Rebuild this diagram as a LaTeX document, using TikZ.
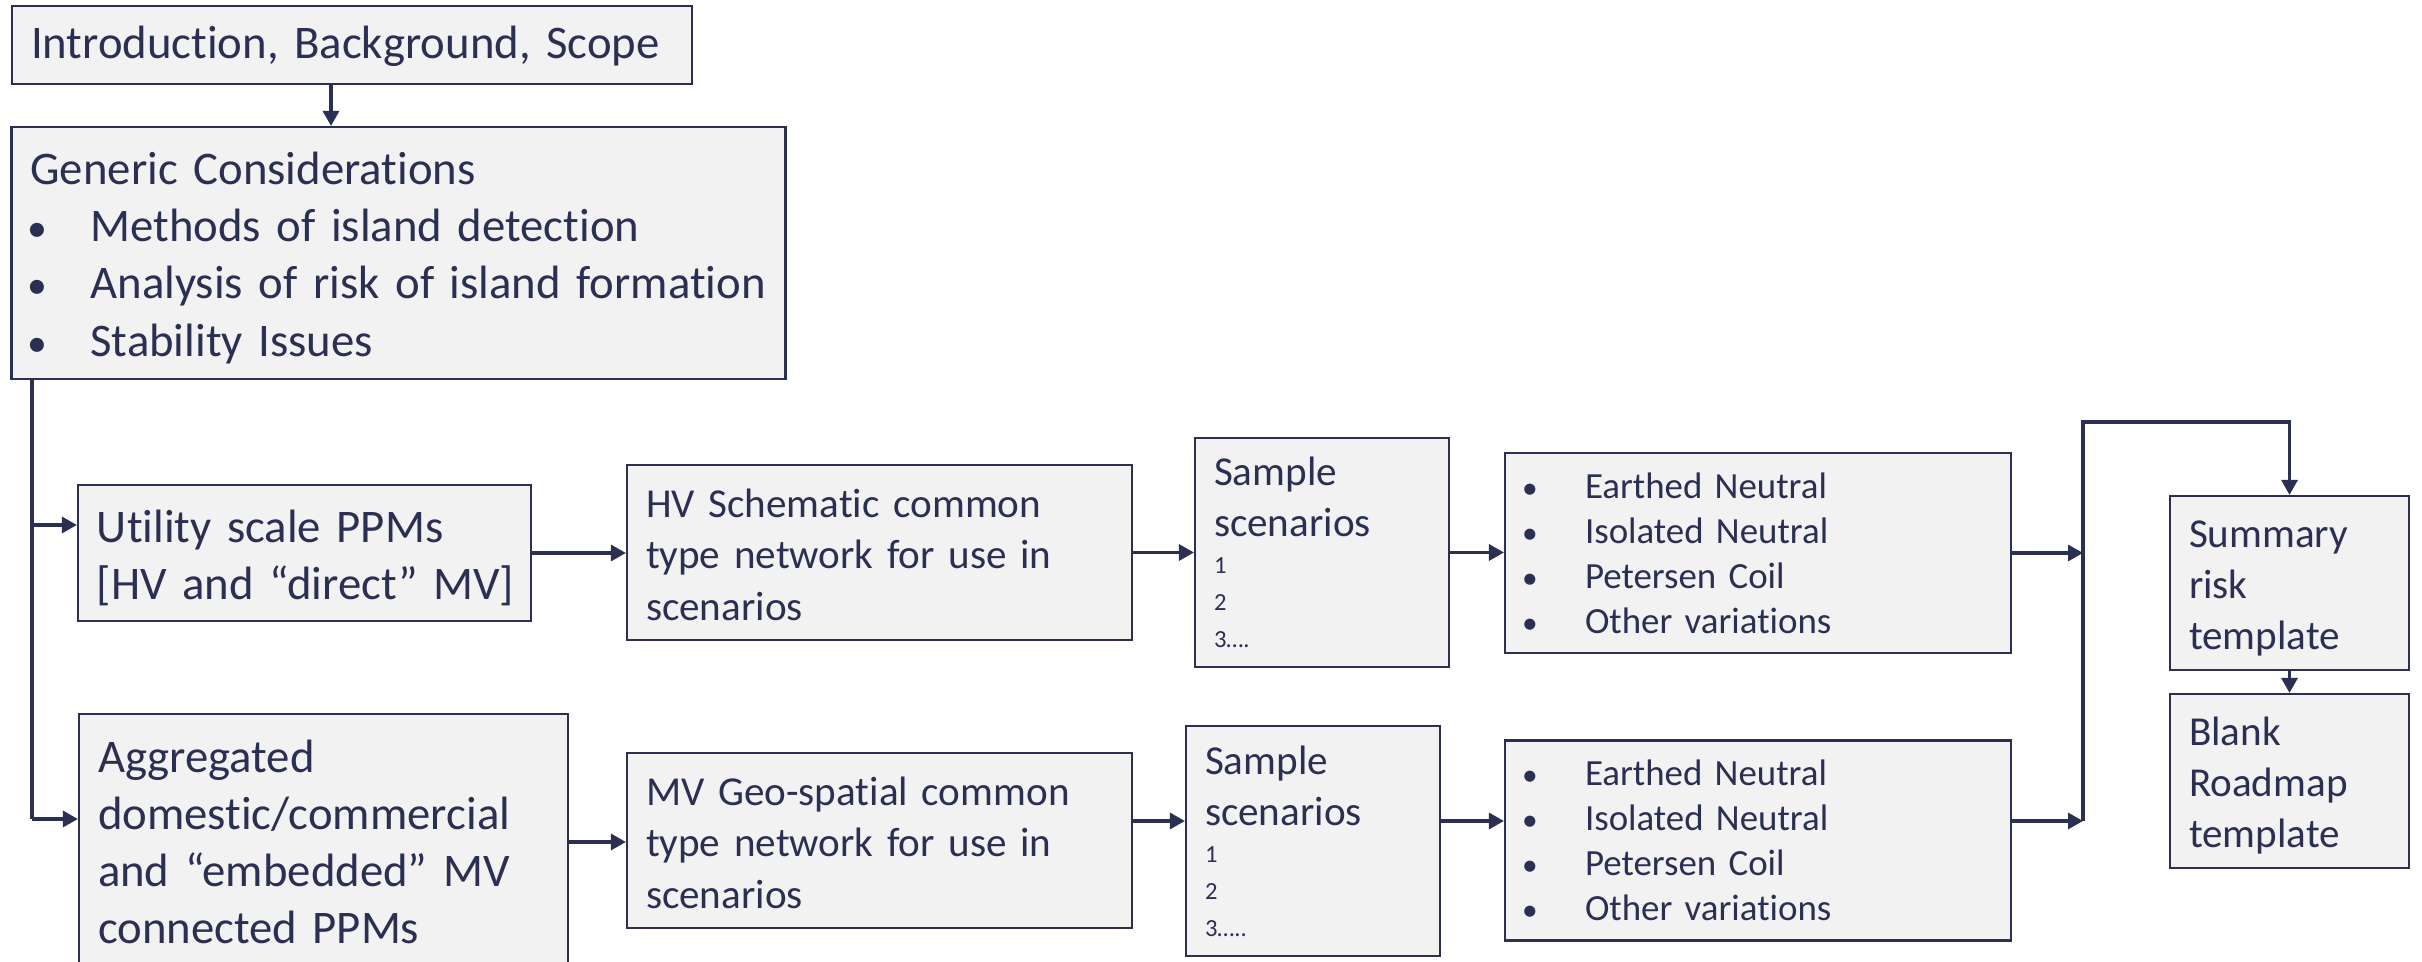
\documentclass[tikz,border=0pt]{standalone}
\usepackage{fontspec}
\setmainfont{Carlito}[Ligatures=NoCommon]
\usetikzlibrary{arrows.meta}
\definecolor{navy}{HTML}{2B3052}
\definecolor{boxgrey}{HTML}{F2F2F2}
\newcommand{\txtL}{\fontsize{13.3}{16.3}\selectfont}
\newcommand{\txtM}{\fontsize{11.7}{14.6}\selectfont}
\newcommand{\txtS}{\fontsize{10.5}{12.8}\selectfont}
\newcommand{\txtXS}{\fontsize{7}{10.5}\selectfont}
\newcommand{\bul}[2][0pt]{\mbox{\hspace*{#1}\makebox[0.63cm][l]{\scalebox{0.85}{•}}#2}}
\newcommand{\tall}[1]{\rule{0pt}{#1}}

\begin{document}
\begin{tikzpicture}[
    box/.style={draw=navy, line width=0.6pt, fill=boxgrey, rectangle, inner xsep=0.19cm, inner ysep=0pt, align=left, text=navy},
    arr/.style={draw=navy, line width=0.9pt, -{Triangle[length=1.5mm,width=1.6mm]}},
    link/.style={draw=navy, line width=0.9pt}
  ]
  \path[use as bounding box, clip] (0,0) rectangle (24.22,9.62);

  % Introduction and generic part
  \node[box, font=\txtL, minimum height=0.78cm, text width=6.42cm] (intro) at (3.52,9.17) {\tall{0.36cm}\mbox{Introduction, Background, Scope}};
  \node[box, font=\txtL, minimum height=2.52cm, text width=7.36cm] (generic) at (3.985,7.09) {\tall{0.42cm}Generic Considerations\\
    \bul[-0.03cm]{Methods of island detection}\\
    \bul[-0.03cm]{Analysis of risk of island formation}\\
    \bul[-0.03cm]{Stability Issues}};
  \coordinate (ig) at (3.31,8.78);
  \draw[arr] (ig |- intro.south) -- (ig |- generic.north);

  % PPM types
  \node[box, font=\txtL, minimum height=1.36cm, text width=4.15cm] (util) at (3.045,4.09) {\tall{0.42cm}\mbox{Utility scale PPMs}\\\mbox{[HV and “direct” MV]}};
  \node[box, font=\txtL, minimum height=2.56cm, text width=4.51cm] (agg) at (3.235,1.20) {Aggregated\\\mbox{domestic/commercial}\\\mbox{and “embedded” MV}\\\mbox{connected PPMs}};
  \coordinate (tu) at (0.32,4.37);
  \coordinate (ta) at (0.32,1.43);
  \draw[link] (tu |- generic.south) -- (ta);
  \draw[arr] (tu) -- (tu -| util.west);
  \draw[arr] (ta) -- (ta -| agg.west);

  % HV row
  \node[box, font=\txtM, minimum height=1.75cm, text width=4.67cm] (hv) at (8.795,4.095) {\tall{0.33cm}\mbox{HV Schematic common}\\\mbox{type network for use in}\\scenarios};
  \node[box, font=\txtM, minimum height=2.29cm, text width=2.16cm] (samp1) at (13.22,4.095) {Sample\\scenarios\par{\txtXS 1\\2\\3….\par}};
  \node[box, font=\txtS, minimum height=2.00cm, text width=4.68cm] (bul1) at (17.58,4.09) {\bul[-0.02cm]{Earthed Neutral}\\
    \bul[-0.02cm]{Isolated Neutral}\\
    \bul[-0.02cm]{Petersen Coil}\\
    \bul[-0.02cm]{Other variations}};

  % MV row
  \node[box, font=\txtM, minimum height=1.75cm, text width=4.67cm] (hv2) at (8.795,1.215) {\tall{0.33cm}\mbox{MV Geo-spatial common}\\\mbox{type network for use in}\\scenarios};
  \node[box, font=\txtM, minimum height=2.30cm, text width=2.16cm] (samp2) at (13.13,1.21) {Sample\\scenarios\par{\txtXS 1\\2\\3…..\par}};
  \node[box, font=\txtS, minimum height=2.00cm, text width=4.68cm] (bul2) at (17.58,1.215) {\bul[-0.02cm]{Earthed Neutral}\\
    \bul[-0.02cm]{Isolated Neutral}\\
    \bul[-0.02cm]{Petersen Coil}\\
    \bul[-0.02cm]{Other variations}};

  % Templates
  \node[box, font=\txtM, minimum height=1.74cm, text width=2.01cm] (summary) at (22.895,3.79) {\tall{0.38cm}Summary\\risk\\template};
  \node[box, font=\txtM, minimum height=1.74cm, text width=2.01cm] (blank) at (22.895,1.81) {\tall{0.38cm}Blank\\Roadmap\\template};

  % Row arrows
  \coordinate (mtop) at (20.83,5.40);
  \coordinate (mb) at (20.83,1.41);
  \draw[arr] (util.east) -- (util.east -| hv.west);
  \draw[arr] (hv.east) -- (hv.east -| samp1.west);
  \draw[arr] (samp1.east) -- (samp1.east -| bul1.west);
  \draw[arr] (bul1.east) -- (bul1.east -| mtop);
  \draw[arr] (agg.east) -- (agg.east -| hv2.west);
  \draw[arr] (hv2.east |- mb) -- (samp2.west |- mb);
  \draw[arr] (samp2.east |- mb) -- (bul2.west |- mb);
  \draw[arr] (bul2.east |- mb) -- (mb);
  \draw[arr] (mb) -- (mtop) -| (summary.north);
  \draw[arr] (summary) -- (blank);
\end{tikzpicture}
\end{document}
